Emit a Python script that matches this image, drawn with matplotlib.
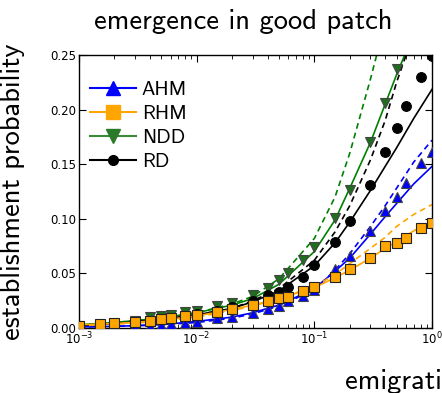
import numpy as np
import matplotlib
matplotlib.use("Agg")
import matplotlib.pyplot as plt

# ---- data ----
x_pts = [1e-3, 1.5e-3, 2e-3, 3e-3, 4e-3, 5e-3, 6e-3, 8e-3, 1e-2, 1.5e-2, 2e-2,
         3e-2, 4e-2, 5e-2, 6e-2, 8e-2, 0.1, 0.15, 0.2, 0.3, 0.4, 0.5, 0.6, 0.8, 1.0]
ahm_pts = [0.0008, 0.001, 0.0012, 0.0015, 0.002, 0.003, 0.0035, 0.0046, 0.0058, 0.0089, 0.0104,
           0.0134, 0.0171, 0.020, 0.025, 0.029, 0.035, 0.0537, 0.066, 0.0891, 0.107, 0.120, 0.1325, 0.151, 0.1615]
rhm_pts = [0.002, 0.0037, 0.0043, 0.0058, 0.0067, 0.008, 0.0095, 0.0107, 0.0122, 0.0143, 0.0174,
           0.021, 0.0245, 0.0272, 0.0287, 0.0343, 0.0378, 0.047, 0.0537, 0.0638, 0.0751, 0.0778, 0.0827, 0.0913, 0.0965]
ndd_pts = [0.002, 0.003, 0.004, 0.0065, 0.0104, 0.0113, 0.0122, 0.015, 0.0159, 0.020, 0.023,
           0.030, 0.0366, 0.044, 0.050, 0.062, 0.074, 0.101, 0.126, 0.170, 0.206, 0.237, np.nan, np.nan, np.nan]
rd_pts = [0.0015, 0.0025, 0.0035, 0.005, 0.0065, 0.0075, 0.0085, 0.0105, 0.0125, 0.016, 0.019,
          0.025, 0.030, 0.033, 0.038, 0.047, 0.058, 0.079, 0.098, 0.131, 0.1615, 0.183, 0.203, 0.2296, 0.249]

x_line = [1e-3, 2e-3, 5e-3, 1e-2, 2e-2, 3e-2, 5e-2, 0.1, 0.15, 0.2, 0.3, 0.4, 0.5, 0.7, 1.0]
ndd_solid = [0.003, 0.005, 0.009, 0.014, 0.021, 0.027, 0.040, 0.070, 0.099, 0.128, 0.170, 0.205, 0.232, 0.27, 0.31]
ndd_dash = [0.003, 0.005, 0.009, 0.014, 0.022, 0.029, 0.045, 0.082, 0.120, 0.160, 0.228, 0.28, 0.32, 0.38, 0.45]
rd_solid = [0.002, 0.004, 0.008, 0.012, 0.018, 0.024, 0.034, 0.057, 0.078, 0.097, 0.126, 0.148, 0.165, 0.192, 0.2185]
rd_dash = [0.002, 0.004, 0.008, 0.012, 0.018, 0.025, 0.036, 0.062, 0.088, 0.112, 0.154, 0.19, 0.225, 0.27, 0.32]
ahm_solid = [0.001, 0.0015, 0.003, 0.006, 0.010, 0.014, 0.021, 0.036, 0.052, 0.064, 0.086, 0.102, 0.114, 0.132, 0.148]
ahm_dash = [0.001, 0.0015, 0.003, 0.005, 0.009, 0.013, 0.020, 0.035, 0.053, 0.068, 0.093, 0.112, 0.128, 0.152, 0.172]
rhm_solid = [0.003, 0.004, 0.007, 0.011, 0.017, 0.021, 0.027, 0.037, 0.046, 0.053, 0.064, 0.073, 0.079, 0.089, 0.098]
rhm_dash = [0.002, 0.0035, 0.006, 0.010, 0.016, 0.020, 0.027, 0.038, 0.049, 0.059, 0.073, 0.083, 0.093, 0.104, 0.113]

labels = ["AHM", "RHM", "NDD", "RD"]
title = "emergence in good patch"
ylabel = "establishment probability"
xlabel = "emigration rate"

# ---- figure ----
plt.rcParams["axes.formatter.use_mathtext"] = True
fig = plt.figure(figsize=(4.42, 3.93), dpi=100)
ax = fig.add_axes([79 / 442, 1 - 328 / 393, 353 / 442, 273 / 393])

BLUE = "#0000ff"
ORANGE = "#ffa500"
GREEN = "#008000"
DGREEN = "#1e6e1e"
BLACK = "#000000"
EDGE = "#444444"
lw = 1.2
dash = (0, (3.5, 2.5))

ax.plot(x_line, ndd_dash, color=GREEN, lw=lw, linestyle=dash, zorder=2)
ax.plot(x_line, ndd_solid, color=GREEN, lw=lw, zorder=2)
ax.plot(x_line, rd_dash, color=BLACK, lw=lw, linestyle=dash, zorder=2)
ax.plot(x_line, rd_solid, color=BLACK, lw=lw, zorder=2)
ax.plot(x_line, ahm_dash, color=BLUE, lw=lw, linestyle=dash, zorder=2)
ax.plot(x_line, ahm_solid, color=BLUE, lw=lw, zorder=2)
ax.plot(x_line, rhm_dash, color=ORANGE, lw=lw, linestyle=dash, zorder=2)
ax.plot(x_line, rhm_solid, color=ORANGE, lw=lw, zorder=2)

ms = 7
ax.plot(x_pts, ndd_pts, linestyle="none", marker="v", ms=ms, mfc=DGREEN, mec=EDGE, mew=0.8, zorder=3)
ax.plot(x_pts, rd_pts, linestyle="none", marker="o", ms=ms, mfc=BLACK, mec=BLACK, mew=0.8, zorder=4)
ax.plot(x_pts, ahm_pts, linestyle="none", marker="^", ms=ms, mfc=BLUE, mec=EDGE, mew=0.8, zorder=5)
ax.plot(x_pts, rhm_pts, linestyle="none", marker="s", ms=ms, mfc=ORANGE, mec="#222222", mew=0.8, zorder=6)

# legend proxies
h1, = ax.plot([], [], color=BLUE, lw=1.5, marker="^", ms=10, mfc=BLUE, mec=BLUE)
h2, = ax.plot([], [], color=ORANGE, lw=1.5, marker="s", ms=10, mfc=ORANGE, mec=ORANGE)
h3, = ax.plot([], [], color="#3a8a3a", lw=1.5, marker="v", ms=10, mfc="#2a7a2a", mec="#2a7a2a")
h4, = ax.plot([], [], color=BLACK, lw=1.5, marker="o", ms=7, mfc=BLACK, mec=BLACK)
leg = ax.legend([h1, h2, h3, h4], labels, loc="upper left", frameon=False,
                prop={"family": "cmss10", "size": 14.5}, handlelength=2.3,
                handletextpad=0.3, labelspacing=0.3, borderaxespad=0.0,
                borderpad=0.0, bbox_to_anchor=(0.03, 0.905))

ax.set_xscale("log")
ax.set_xlim(1e-3, 1.0)
ax.set_ylim(0, 0.25)
ax.set_yticks([0.0, 0.05, 0.10, 0.15, 0.20, 0.25])
ax.set_yticklabels(["0.00", "0.05", "0.10", "0.15", "0.20", "0.25"])
ax.tick_params(which="both", direction="in", top=True, right=True, labelsize=8.5, pad=2)
ax.tick_params(which="major", length=5, width=0.8)
ax.tick_params(which="minor", length=3, width=0.6)
for s in ax.spines.values():
    s.set_linewidth(1.0)

ax.set_ylabel(ylabel, family="cmss10", fontsize=20.5)
ax.yaxis.set_label_coords((25 - 79) / 353, 0.5)

fig.text(243.5 / 442, 1 - 21 / 393, title, family="cmss10", fontsize=20.5,
         ha="center", va="center")
fig.text(345 / 442, 1 - 381 / 393, xlabel, family="cmss10", fontsize=20.5,
         ha="left", va="center")

fig.savefig("out.png", dpi=100)
